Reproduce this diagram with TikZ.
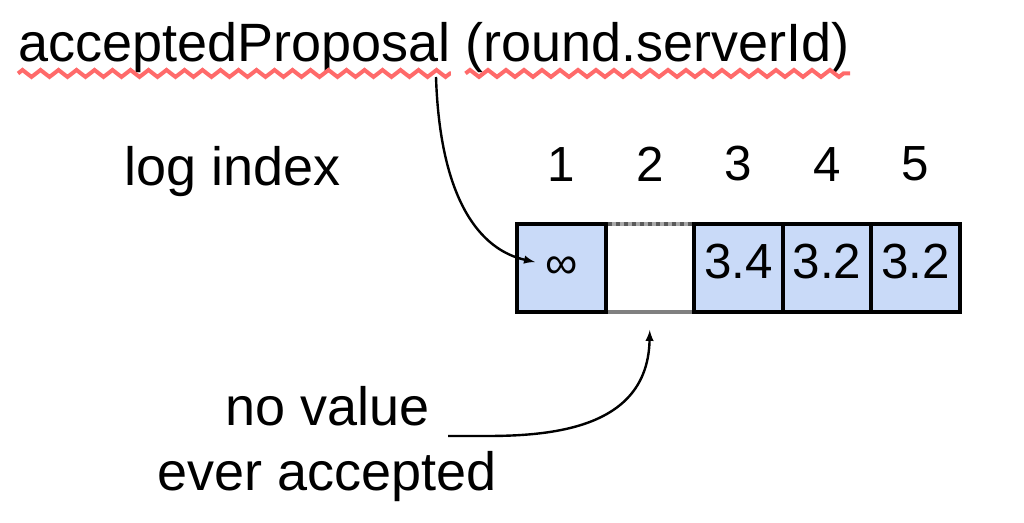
\documentclass[tikz,border=0pt]{standalone}
\usepackage{fontspec}
\setmainfont{Liberation Sans}
\usetikzlibrary{arrows,positioning,decorations.pathmorphing}
\definecolor{cellblue}{HTML}{C9DAF8}
\definecolor{squiggle}{HTML}{FF6A6A}
\definecolor{borderlight}{HTML}{A8A8A8}
\definecolor{borderdark}{HTML}{5A5A5A}
\definecolor{bordergray}{HTML}{808080}

\begin{document}
\begin{tikzpicture}[
    x=0.75pt, y=-0.75pt,
    lbl/.style={inner sep=0pt, font=\fontsize{40.5}{48.75}\selectfont},
    idx/.style={inner sep=0pt, font=\fontsize{37}{44}\selectfont},
    cell/.style={draw, rectangle, line width=3pt, fill=cellblue, minimum width=66.4pt, minimum height=66pt,
        inner sep=0pt, outer sep=0pt, text height=26.5pt, text depth=10pt, font=\fontsize{37}{44}\selectfont},
    gapcell/.style={cell, draw=none, fill=none},
    squig/.style={draw=squiggle, line width=3pt, decorate, decoration={zigzag, segment length=13.5pt, amplitude=2.6pt}},
    arrow/.style={draw, -latex, line width=1.8pt}
]
    \useasboundingbox (0,0) rectangle (1024,523);

    % Title with the spell-check marks
    \node[lbl, anchor=base west] (prop) at (18,62) {acceptedProposal};
    \node[lbl, anchor=base west] (srv) at ([xshift=11pt]prop.base east) {(round.serverId)};
    \path[squig] (prop.south west) -- (prop.south east);
    \path[squig] (srv.south west) -- (srv.south east);

    % Log cells
    \node[cell] (c1) at (561.25,268) {\fontsize{34}{40}\selectfont ∞};
    \node[gapcell, right=0pt of c1] (c2) {};
    \node[cell, right=0pt of c2] (c3) {3.4};
    \node[cell, right=0pt of c3] (c4) {3.2};
    \node[cell, right=0pt of c4] (c5) {3.2};

    % Empty slot borders
    \draw[borderlight, line width=3pt, shorten <=1.5pt, shorten >=1.5pt] (c2.north west) -- (c2.north east);
    \draw[borderdark, line width=3pt, dash pattern=on 3pt off 3pt, shorten <=1.5pt, shorten >=1.5pt] (c2.north west) -- (c2.north east);
    \draw[bordergray, line width=3pt, shorten <=1.5pt, shorten >=1.5pt] (c2.south west) -- (c2.south east);

    % Index row
    \node[lbl, anchor=base west] (logidx) at (124,186) {log index};
    \node[idx, above=32pt of c1] (i1) {1};
    \node[idx, above=32pt of c2] (i2) {2};
    \node[idx, above=32pt of c3] (i3) {3};
    \node[idx, above=32pt of c4] (i4) {4};
    \node[idx, above=32pt of c5] (i5) {5};

    % Note below
    \node[lbl, align=center] (note) at (327.5,444) {no value\\ever accepted};

    % Connections
    \coordinate (propfoot) at (436,77);
    \coordinate (notefoot) at (448,436);
    \path[arrow] (propfoot) .. controls +(4,123) and +(-55,-12) .. ([xshift=13.5pt, yshift=4.5pt]c1.west);
    \path[arrow] (notefoot) -- ++(39,0) .. controls +(73,0) and +(-2,95) .. ([yshift=-13.5pt]c2.south);

\end{tikzpicture}
\end{document}
